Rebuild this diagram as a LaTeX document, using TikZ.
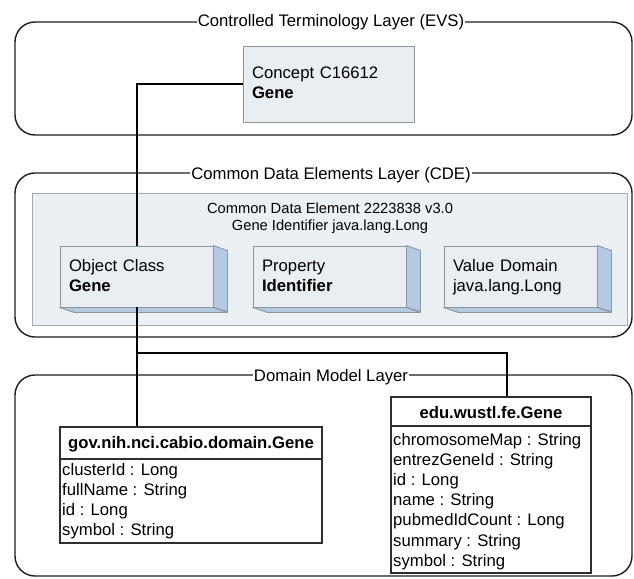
\documentclass[tikz,border=0pt]{standalone}
\usepackage{fontspec}
\setmainfont{Liberation Sans}
\usetikzlibrary{positioning}

\definecolor{layerline}{HTML}{1E1E1E}
\definecolor{boxfill}{HTML}{E9EEF3}
\definecolor{boxline}{HTML}{8C969F}
\definecolor{cdefill}{HTML}{EBF0F4}
\definecolor{sidefill}{HTML}{B4CAE2}
\definecolor{umlline}{HTML}{2E2E2E}

% uniform line strut so every two-line box centres the same way
\newcommand{\lnstrut}{\rule[-4pt]{0pt}{17pt}}

\tikzset{
  every node/.style={font=\fontsize{16.7}{20}\selectfont},
  layer/.style={draw=layerline, line width=1.4pt, rounded corners=20pt, inner sep=0pt},
  layertitle/.style={fill=white, inner xsep=1pt, inner ysep=2pt, anchor=base},
  concept/.style={draw=boxline, fill=boxfill, line width=0.9pt, align=left,
    text width=153pt, inner xsep=9pt, minimum height=76pt},
  cdebox/.style={draw=boxline!80, fill=cdefill, line width=0.9pt, inner sep=0pt},
  cdetext/.style={font=\fontsize{14.7}{17}\selectfont, align=center},
  front/.style={draw=boxline, fill=boxfill, line width=0.9pt, align=left,
    text width=135pt, inner xsep=9pt, minimum height=61pt},
  side/.style={draw=boxline, fill=sidefill, line width=0.9pt, line join=round},
  umlbox/.style={draw=umlline, line width=1.3pt, fill=white, inner sep=0pt},
  umlhead/.style={font=\bfseries\fontsize{16.7}{20}\selectfont, anchor=base},
  attr/.style={anchor=base west, inner sep=0pt},
  conn/.style={line width=2pt, black}
}

\begin{document}
\begin{tikzpicture}[x=1pt, y=-1pt]
\useasboundingbox[fill=white] (0,0) rectangle (634,578);

% --- the three layers ---
\node[layer, minimum width=617pt, minimum height=113pt] (evs) at (323.5,78.5) {};
\node[layer, minimum width=617pt, minimum height=164pt] (cde) at (323.5,255) {};
\node[layer, minimum width=617pt, minimum height=201pt] (dom) at (323.5,475.5) {};

\node[layertitle] (evst) at (331,27) {Controlled Terminology Layer (EVS)};
\node[layertitle] (cdet) at (331,179) {Common Data Elements Layer (CDE)};
\node[layertitle] (domt) at (331,381) {Domain Model Layer};

% --- EVS concept ---
\node[concept] (concept) at (328.5,84) {Concept C16612\lnstrut\\\textbf{Gene}\lnstrut};

% --- common data element ---
\node[cdebox, minimum width=595pt, minimum height=132pt] (cdeel) at (329.5,259) {};
\node[cdetext] (cdelabel) at (330,218.5) {Common Data Element 2223838 v3.0\\Gene Identifier java.lang.Long};

\node[front] (oc) at (136.5,276.5) {Object Class\lnstrut\\\textbf{Gene}\lnstrut};
\node[front] (pr) at (329.5,276.5) {Property\lnstrut\\\textbf{Identifier}\lnstrut};
\node[front] (vd) at (520.5,276.5) {Value Domain\lnstrut\\java.lang.Long\lnstrut};

\foreach \n in {oc,pr,vd}{
  \filldraw[side] (\n.north east) -- ++(14,5) -- ++(0,61) -- (\n.south east) -- cycle;
  \filldraw[side] (\n.south west) -- (\n.south east) -- ++(14,5) -- ++(-153,0) -- cycle;
}

% --- domain model classes ---
\node[umlbox, minimum width=262pt, minimum height=116pt] (gov) at (191,485) {};
\draw[umlline, line width=1.1pt] (gov.west |- 0,459) -- (gov.east |- 0,459);
\node[umlhead] (govh) at (191,448) {gov.nih.nci.cabio.domain.Gene};
\node[attr] (g1) at (62,475) {clusterId : Long};
\node[attr] (g2) at (62,495) {fullName : String};
\node[attr] (g3) at (62,515) {id : Long};
\node[attr] (g4) at (62,535) {symbol : String};

\node[umlbox, minimum width=200pt, minimum height=176pt] (edu) at (491,485) {};
\draw[umlline, line width=1.1pt] (edu.west |- 0,426) -- (edu.east |- 0,426);
\node[umlhead] (eduh) at (491,418) {edu.wustl.fe.Gene};
\node[attr] (e1) at (393,445) {chromosomeMap : String};
\node[attr] (e2) at (393,465) {entrezGeneId : String};
\node[attr] (e3) at (393,485) {id : Long};
\node[attr] (e4) at (393,505) {name : String};
\node[attr] (e5) at (393,525) {pubmedIdCount : Long};
\node[attr] (e6) at (393,546) {summary : String};
\node[attr] (e7) at (393,566) {symbol : String};

% --- connectors ---
\coordinate (split) at (136.5,353);
\draw[conn] (concept.west) -| (oc.north);
\draw[conn] (oc.south) -- (split) -- (split |- gov.north);
\draw[conn] (split) -| ([xshift=16pt]edu.north);
\end{tikzpicture}
\end{document}
